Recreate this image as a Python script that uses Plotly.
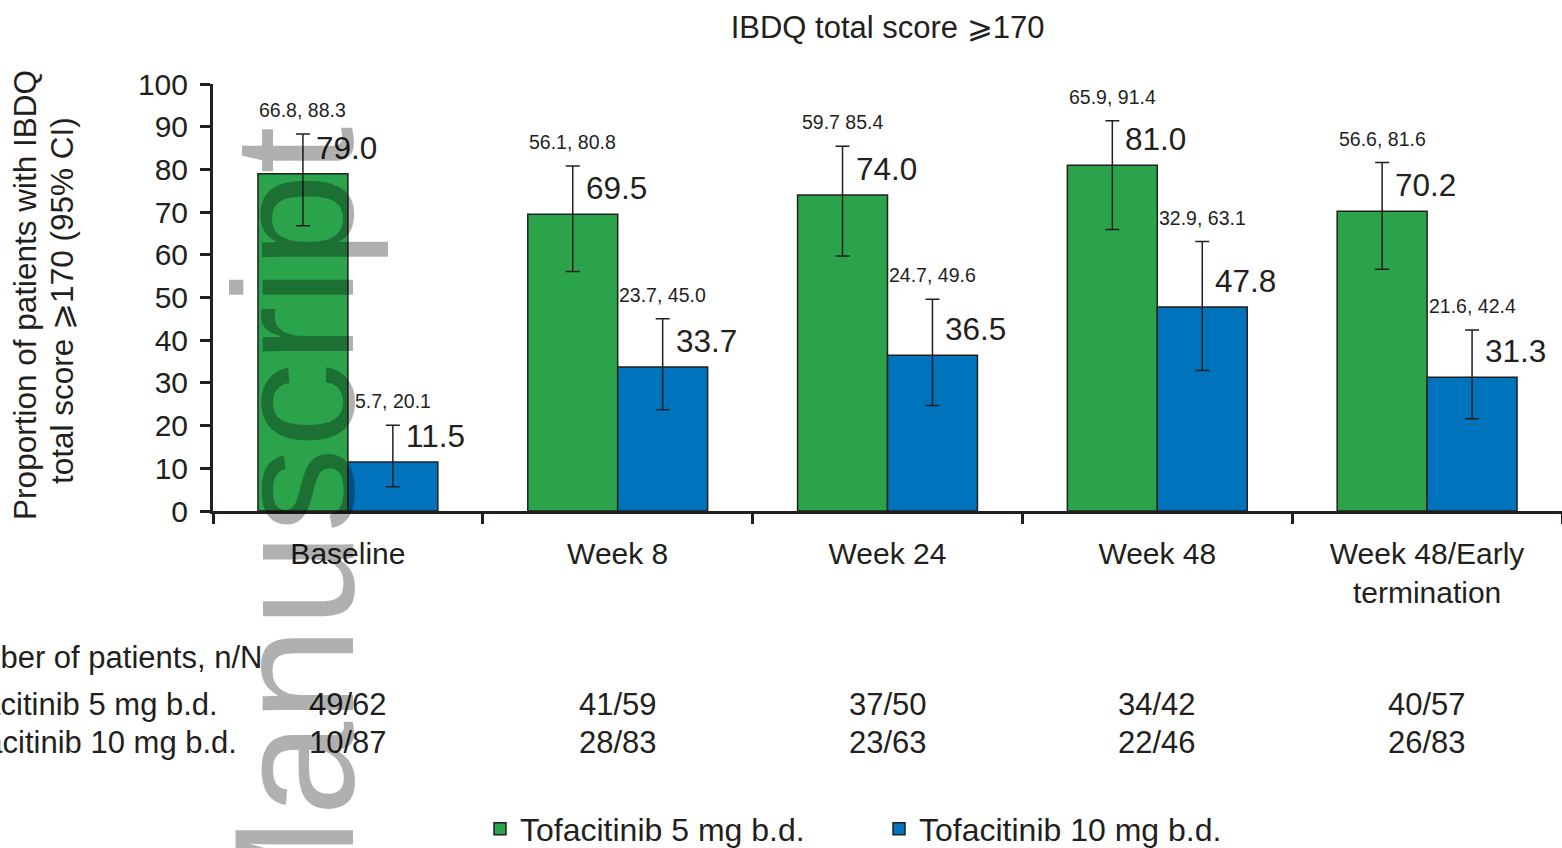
import plotly.graph_objects as go

# ---- data ----
categories = ["Baseline", "Week 8", "Week 24", "Week 48", "Week 48/Early<br>termination"]
tofa5_pct = [79.0, 69.5, 74.0, 81.0, 70.2]
tofa5_ci_low = [66.8, 56.1, 59.7, 65.9, 56.6]
tofa5_ci_high = [88.3, 80.8, 85.4, 91.4, 81.6]
tofa5_ci_text = ["66.8, 88.3", "56.1, 80.8", "59.7 85.4", "65.9, 91.4", "56.6, 81.6"]
tofa5_n = ["49/62", "41/59", "37/50", "34/42", "40/57"]

tofa10_pct = [11.5, 33.7, 36.5, 47.8, 31.3]
tofa10_ci_low = [5.7, 23.7, 24.7, 32.9, 21.6]
tofa10_ci_high = [20.1, 45.0, 49.6, 63.1, 42.4]
tofa10_ci_text = ["5.7, 20.1", "23.7, 45.0", "24.7, 49.6", "32.9, 63.1", "21.6, 42.4"]
tofa10_n = ["10/87", "28/83", "23/63", "22/46", "26/83"]

series_names = ["Tofacitinib 5 mg b.d.", "Tofacitinib 10 mg b.d."]
y_title_lines = ["Proportion of patients with IBDQ", "total score ⩾170 (95% CI)"]
y_ticks = [0, 10, 20, 30, 40, 50, 60, 70, 80, 90, 100]

# ---- style ----
FONT = "Liberation Sans, Arial, Helvetica, sans-serif"
INK = "#231f20"
GREEN = "#2ba34b"
BLUE = "#0073bd"

fig = go.Figure()

def add_series(name, pct, lo, hi, color):
    fig.add_trace(go.Bar(
        name=name, x=categories, y=pct,
        marker=dict(color=color, line=dict(color=INK, width=1.5)),
        error_y=dict(type="data", symmetric=False,
                     array=[h - p for h, p in zip(hi, pct)],
                     arrayminus=[p - l for p, l in zip(pct, lo)],
                     color=INK, thickness=1.5, width=7),
    ))

add_series(series_names[0], tofa5_pct, tofa5_ci_low, tofa5_ci_high, GREEN)
add_series(series_names[1], tofa10_pct, tofa10_ci_low, tofa10_ci_high, BLUE)

annotations = []
offsets = [-1 / 6, 1 / 6]
for s, (pct, hi, citxt) in enumerate([(tofa5_pct, tofa5_ci_high, tofa5_ci_text),
                                      (tofa10_pct, tofa10_ci_high, tofa10_ci_text)]):
    for i in range(len(categories)):
        xc = i + offsets[s]
        annotations.append(dict(x=xc, y=pct[i], xref="x", yref="y", text=f"{pct[i]:.1f}",
                                showarrow=False, xanchor="left", yanchor="middle",
                                xshift=11, yshift=26, font=dict(size=31.5, color=INK, family=FONT)))
        annotations.append(dict(x=xc, y=hi[i], xref="x", yref="y", text=citxt[i],
                                showarrow=False, xanchor="center", yanchor="middle",
                                yshift=24, font=dict(size=19.5, color=INK, family=FONT)))

# y-axis title (two rotated lines)
annotations.append(dict(x=-0.1394, y=0.506, xref="paper", yref="paper", text=y_title_lines[0],
                        showarrow=False, xanchor="center", yanchor="middle", textangle=-90,
                        font=dict(size=31.5, color=INK, family=FONT)))
annotations.append(dict(x=-0.1119, y=0.492, xref="paper", yref="paper", text=y_title_lines[1],
                        showarrow=False, xanchor="center", yanchor="middle", textangle=-90,
                        font=dict(size=31.5, color=INK, family=FONT)))

# table under the chart
TBL = 31
annotations.append(dict(x=0.038, y=-0.342, xref="paper", yref="paper", text="Number of patients, n/N",
                        showarrow=False, xanchor="right", yanchor="middle",
                        font=dict(size=TBL, color=INK, family=FONT)))
annotations.append(dict(x=0.005, y=-0.454, xref="paper", yref="paper", text=series_names[0],
                        showarrow=False, xanchor="right", yanchor="middle",
                        font=dict(size=TBL, color=INK, family=FONT)))
annotations.append(dict(x=0.019, y=-0.543, xref="paper", yref="paper", text=series_names[1],
                        showarrow=False, xanchor="right", yanchor="middle",
                        font=dict(size=TBL, color=INK, family=FONT)))
for i in range(len(categories)):
    annotations.append(dict(x=i, y=-0.454, xref="x", yref="paper", text=tofa5_n[i],
                            showarrow=False, xanchor="center", yanchor="middle",
                            font=dict(size=TBL, color=INK, family=FONT)))
    annotations.append(dict(x=i, y=-0.543, xref="x", yref="paper", text=tofa10_n[i],
                            showarrow=False, xanchor="center", yanchor="middle",
                            font=dict(size=TBL, color=INK, family=FONT)))

# watermark
annotations.append(dict(x=0.060, y=-0.0726, xref="paper", yref="paper", text="Manuscript",
                        showarrow=False, xanchor="center", yanchor="middle", textangle=-90,
                        font=dict(size=170, color="rgba(0,0,0,0.31)", family=FONT)))

fig.update_layout(
    width=1562, height=848,
    margin=dict(l=213, r=0, t=84, b=848 - 511, autoexpand=False),
    paper_bgcolor="white", plot_bgcolor="white",
    barmode="group", bargap=1 / 3, bargroupgap=0,
    font=dict(family=FONT, color=INK, size=30),
    title=dict(text="IBDQ total score ⩾170", x=0.5, xref="paper", y=1 - 27 / 848,
               yanchor="middle", font=dict(size=31, color=INK, family=FONT)),
    showlegend=True,
    legend=dict(orientation="h", x=(480 - 213) / 1349, xanchor="left", y=(511 - 829) / 427,
                yanchor="middle", font=dict(size=32, color=INK, family=FONT),
                entrywidth=354, traceorder="normal", bgcolor="rgba(0,0,0,0)"),
    annotations=annotations,
)
fig.update_xaxes(
    type="category", range=[-0.5, 4.5], showline=True, linecolor=INK, linewidth=3,
    ticks="outside", tickson="boundaries", ticklen=10, tickwidth=2.5, tickcolor=INK,
    showgrid=False, zeroline=False, tickfont=dict(size=30, color=INK, family=FONT),
    ticklabelstandoff=14, automargin=False,
)
fig.update_yaxes(
    range=[0, 100], tickvals=y_ticks, showline=True, linecolor=INK, linewidth=3,
    ticks="outside", ticklen=10, tickwidth=2.5, tickcolor=INK, showgrid=False, zeroline=False,
    tickfont=dict(size=30, color=INK, family=FONT), ticklabelstandoff=6, automargin=False,
)

fig.write_html("out.html", config={"displayModeBar": False},
               post_script="document.body.style.margin='0';document.body.style.overflow='hidden';")
